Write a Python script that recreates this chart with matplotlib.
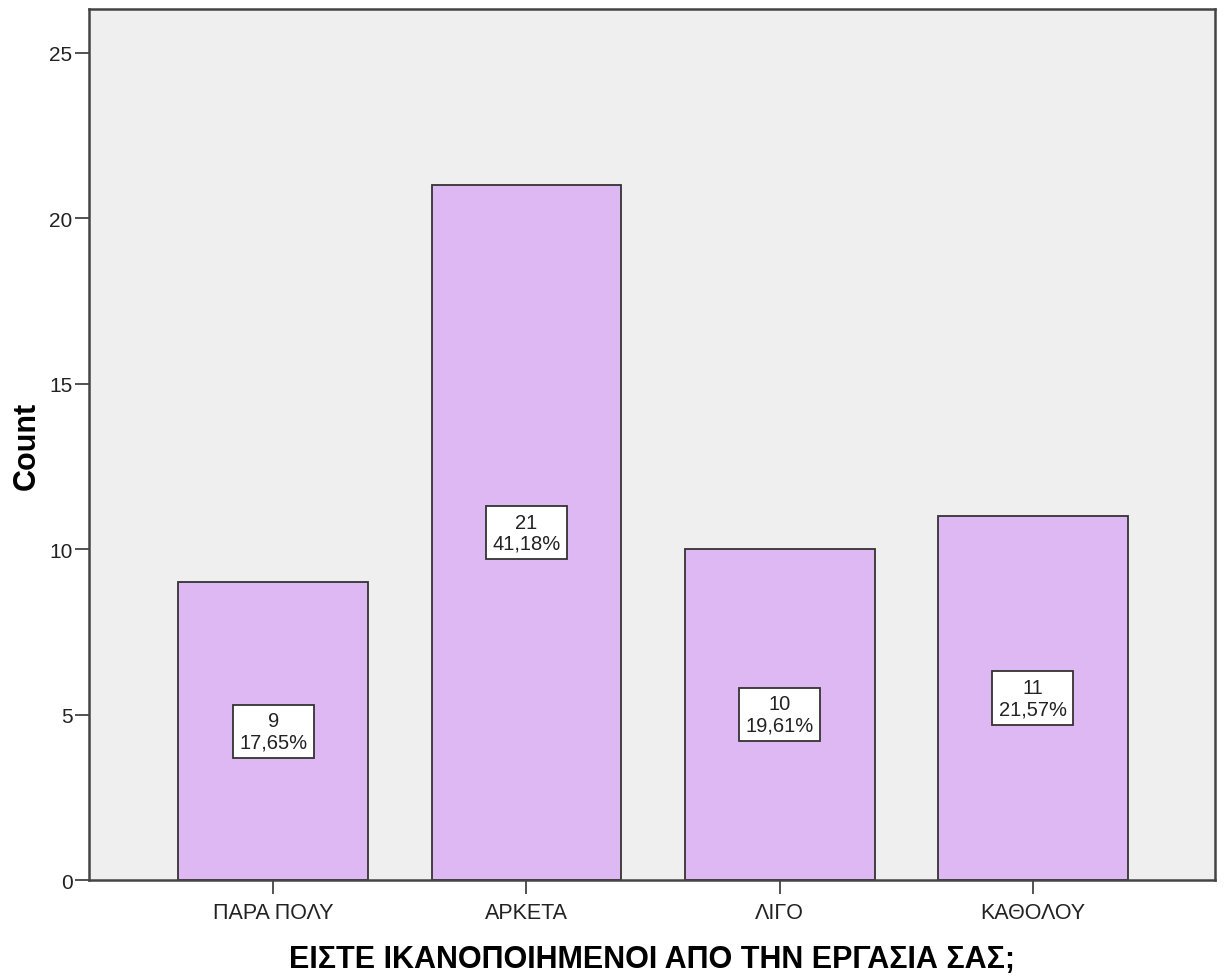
import matplotlib
matplotlib.use("Agg")
import matplotlib.pyplot as plt

categories = ["ΠΑΡΑ ΠΟΛΥ", "ΑΡΚΕΤΑ", "ΛΙΓΟ", "ΚΑΘΟΛΟΥ"]
counts = [9, 21, 10, 11]
percents = ["17,65%", "41,18%", "19,61%", "21,57%"]
y_ticks = [0, 5, 10, 15, 20, 25]

plt.rcParams["font.family"] = ["Liberation Sans", "DejaVu Sans"]

fig = plt.figure(figsize=(12.25, 9.79), dpi=100)
ax = fig.add_axes([0.0727, 0.1001, 0.9191, 0.8897])
ax.set_facecolor("#EFEFEF")

x = list(range(len(categories)))
ax.bar(x, counts, width=0.75, color="#DDB8F2", edgecolor="#333333", linewidth=1.3, zorder=2)

for xi, c, p in zip(x, counts, percents):
    ax.text(xi, c / 2, f"{c}\n{p}", ha="center", va="center", fontsize=14.5,
            color="#222222", linespacing=1.15, zorder=3,
            bbox=dict(boxstyle="square,pad=0.32", facecolor="white",
                      edgecolor="#333333", linewidth=1.3))

ax.set_xlim(-0.728, 3.72)
ax.set_ylim(0, 26.33)
ax.set_yticks(y_ticks)
ax.set_xticks(x)
ax.set_xticklabels(categories)

for side in ["left", "right", "top", "bottom"]:
    ax.spines[side].set_color("#444444")
    ax.spines[side].set_linewidth(1.8)

ax.tick_params(axis="both", direction="out", length=10, width=1.3, color="#444444",
               labelsize=15, labelcolor="#222222")
ax.tick_params(axis="x", pad=6, labelsize=15.5)
ax.tick_params(axis="y", pad=2)

ax.set_ylabel("Count", fontsize=22, fontweight="bold", labelpad=5)
ax.set_xlabel("ΕΙΣΤΕ ΙΚΑΝΟΠΟΙΗΜΕΝΟΙ ΑΠΟ ΤΗΝ ΕΡΓΑΣΙΑ ΣΑΣ;", fontsize=22,
              fontweight="bold", labelpad=15)

fig.savefig("out.png", dpi=100)
